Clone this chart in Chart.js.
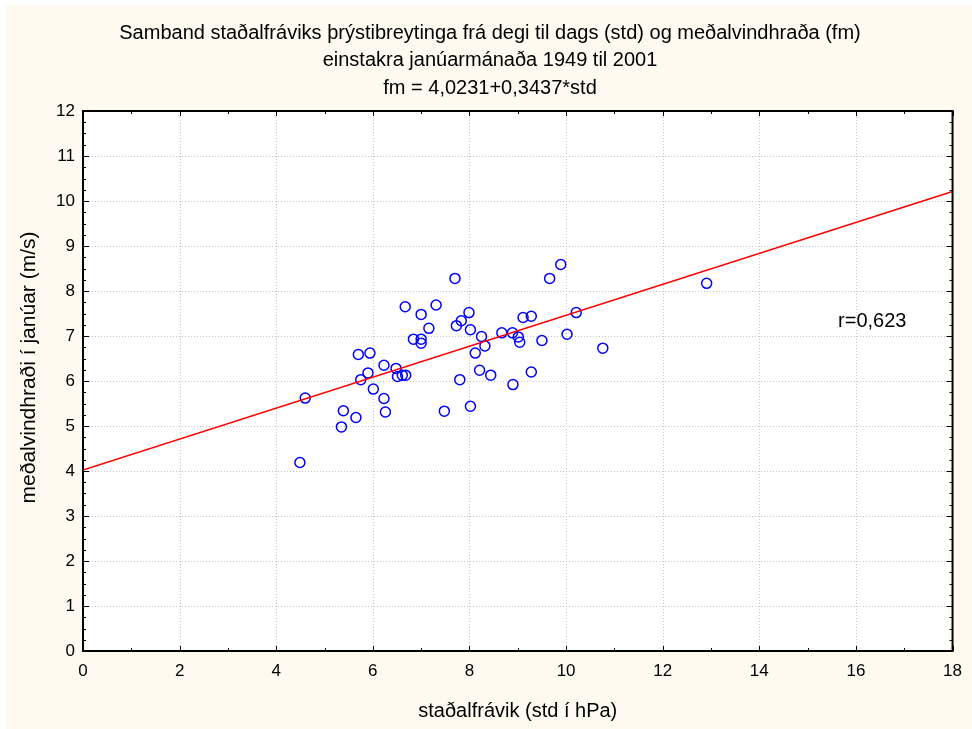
<!DOCTYPE html>
<html><head><meta charset="utf-8">
<script src="https://cdn.jsdelivr.net/npm/chart.js@4/dist/chart.umd.min.js"></script>
<style>html,body{margin:0;padding:0;background:#fff;overflow:hidden}#wrap{position:absolute;left:0;top:0;width:972px;height:729px}</style>
</head><body><div id="wrap"><canvas id="c" width="972" height="729"></canvas></div>
<script>
// ---- data ----
const stdValues = [4.49,4.60,5.35,5.39,5.65,5.70,5.75,5.90,5.94,6.01,6.23,6.23,6.26,6.48,6.51,6.61,6.68,6.67,6.84,7.00,7.00,7.00,7.16,7.31,7.48,7.70,7.73,7.80,7.83,7.99,8.02,8.02,8.12,8.21,8.25,8.32,8.44,8.67,8.89,9.01,9.04,8.90,9.11,9.28,9.28,9.50,9.66,9.89,10.02,10.21,10.76,12.91];
const windValues = [4.19,5.62,4.98,5.34,5.19,6.59,6.03,6.18,6.62,5.82,6.35,5.61,5.31,6.28,6.10,6.13,6.13,7.65,6.93,6.93,6.84,7.48,7.17,7.69,5.33,8.28,7.23,6.03,7.34,7.52,7.14,5.44,6.62,6.24,6.99,6.78,6.13,7.07,7.07,6.98,6.86,5.92,7.41,7.44,6.20,6.90,8.28,8.59,7.04,7.52,6.73,8.17];
const fitStd = [0, 18];
const fitWind = [4.0231, 10.2097];
const xTickValues = [0,2,4,6,8,10,12,14,16,18];
const yTickValues = [0,1,2,3,4,5,6,7,8,9,10,11,12];
const titleLines = [
  'Samband staðalfráviks þrýstibreytinga frá degi til dags (std) og meðalvindhraða (fm)',
  'einstakra janúarmánaða 1949 til 2001',
  'fm = 4,0231+0,3437*std'
];
const xAxisTitle = 'staðalfrávik (std í hPa)';
const yAxisTitle = 'meðalvindhraði í janúar (m/s)';
const corrLabel = 'r=0,623';

const FONT = "'Liberation Sans', Arial, sans-serif";

const decorPlugin = {
  id: 'decor',
  beforeDraw(chart) {
    const {ctx, width, height, chartArea: a} = chart;
    ctx.save();
    ctx.fillStyle = '#ffffff';
    ctx.fillRect(0, 0, width, height);
    ctx.fillStyle = '#fffaf0';
    ctx.fillRect(6, 5, width - 6, height - 5);
    ctx.fillStyle = '#ffffff';
    ctx.fillRect(a.left, a.top, a.right - a.left, a.bottom - a.top);
    ctx.restore();
  },
  beforeDatasetsDraw(chart) {
    const {ctx, chartArea: a, scales: {x, y}} = chart;
    ctx.save();
    ctx.strokeStyle = '#c4c4c4';
    ctx.lineWidth = 1;
    ctx.setLineDash([1, 2]);
    x.ticks.forEach(t => {
      const px = Math.round(x.getPixelForValue(t.value)) + 0.5;
      if (px <= a.left + 1 || px >= a.right - 1) return;
      ctx.beginPath(); ctx.moveTo(px, a.top); ctx.lineTo(px, a.bottom); ctx.stroke();
    });
    y.ticks.forEach(t => {
      const py = Math.round(y.getPixelForValue(t.value)) + 0.5;
      if (py <= a.top + 1 || py >= a.bottom - 1) return;
      ctx.beginPath(); ctx.moveTo(a.left, py); ctx.lineTo(a.right, py); ctx.stroke();
    });
    ctx.restore();
  },
  afterDatasetsDraw(chart, args, opts) {
    const {ctx, chartArea: a, scales: {x, y}} = chart;
    ctx.save();
    ctx.strokeStyle = '#000';
    ctx.lineWidth = 1;
    ctx.setLineDash([]);
    for (let v = x.min; v <= x.max + 1e-9; v += opts.xMinor) {
      const px = Math.round(x.getPixelForValue(v)) + 0.5;
      const len = Math.abs(v / opts.xMajor - Math.round(v / opts.xMajor)) < 1e-6 ? 5 : 3;
      ctx.beginPath();
      ctx.moveTo(px, a.bottom); ctx.lineTo(px, a.bottom - len);
      ctx.moveTo(px, a.top); ctx.lineTo(px, a.top + len);
      ctx.stroke();
    }
    for (let v = y.min; v <= y.max + 1e-9; v += opts.yMinor) {
      const py = Math.round(y.getPixelForValue(v)) + 0.5;
      const len = Math.abs(v - Math.round(v)) < 1e-6 ? 6 : 3;
      ctx.beginPath();
      ctx.moveTo(a.left, py); ctx.lineTo(a.left + len, py);
      ctx.moveTo(a.right, py); ctx.lineTo(a.right - len, py);
      ctx.stroke();
    }
    ctx.lineWidth = 2;
    ctx.strokeRect(a.left, a.top, a.right - a.left, a.bottom - a.top);
    ctx.fillStyle = '#000';
    ctx.font = '20px ' + FONT;
    ctx.textAlign = 'left';
    ctx.textBaseline = 'middle';
    ctx.fillText(corrLabel, x.getPixelForValue(opts.labelAt[0]), y.getPixelForValue(opts.labelAt[1]));
    // y-axis title (rotated), centred where the reference puts it
    ctx.save();
    ctx.translate(opts.yTitleX, y.getPixelForValue(opts.yTitleAt));
    ctx.rotate(-Math.PI / 2);
    ctx.font = '21px ' + FONT;
    ctx.textAlign = 'center';
    ctx.textBaseline = 'middle';
    ctx.fillText(yAxisTitle, 0, 0);
    ctx.restore();
    ctx.restore();
  }
};

new Chart(document.getElementById('c'), {
  type: 'scatter',
  data: {
    datasets: [
      {
        type: 'line',
        data: fitStd.map((v, i) => ({x: v, y: fitWind[i]})),
        borderColor: '#ff0000',
        borderWidth: 1.5,
        pointRadius: 0,
        fill: false,
        tension: 0
      },
      {
        data: stdValues.map((v, i) => ({x: v, y: windValues[i]})),
        pointRadius: 5,
        pointBorderWidth: 1.5,
        borderColor: '#0000ff',
        backgroundColor: 'rgba(0,0,0,0)',
        pointStyle: 'circle'
      }
    ]
  },
  options: {
    responsive: false,
    animation: false,
    devicePixelRatio: 1,
    layout: {padding: {left: 25, right: 17, top: 0, bottom: 0}},
    plugins: {
      legend: {display: false},
      tooltip: {enabled: false},
      title: {
        display: true,
        text: titleLines,
        color: '#000',
        font: {family: FONT, size: 20, weight: 'normal', lineHeight: 1.375},
        padding: {top: 19.25, bottom: 9.25}
      },
      decor: {xMinor: 1, xMajor: 2, yMinor: 0.25, labelAt: [15.63, 7.33], yTitleX: 29, yTitleAt: 6.3}
    },
    scales: {
      x: {
        type: 'linear', min: 0, max: 18,
        afterBuildTicks: s => { s.ticks = xTickValues.map(v => ({value: v})); },
        afterFit: s => { s.height = 78; },
        grid: {display: false, drawTicks: false},
        border: {display: false},
        ticks: {color: '#000', font: {family: FONT, size: 17}, padding: 10, maxRotation: 0},
        title: {display: true, text: xAxisTitle, color: '#000', font: {family: FONT, size: 20}, padding: {top: 0, bottom: 6}}
      },
      y: {
        type: 'linear', min: 0, max: 12,
        afterBuildTicks: s => { s.ticks = yTickValues.map(v => ({value: v})); },
        afterFit: s => { s.width = 58; },
        grid: {display: false, drawTicks: false},
        border: {display: false},
        ticks: {color: '#000', font: {family: FONT, size: 17}, padding: 8},
        title: {display: false}
      }
    }
  },
  plugins: [decorPlugin]
});
</script>
</body></html>
